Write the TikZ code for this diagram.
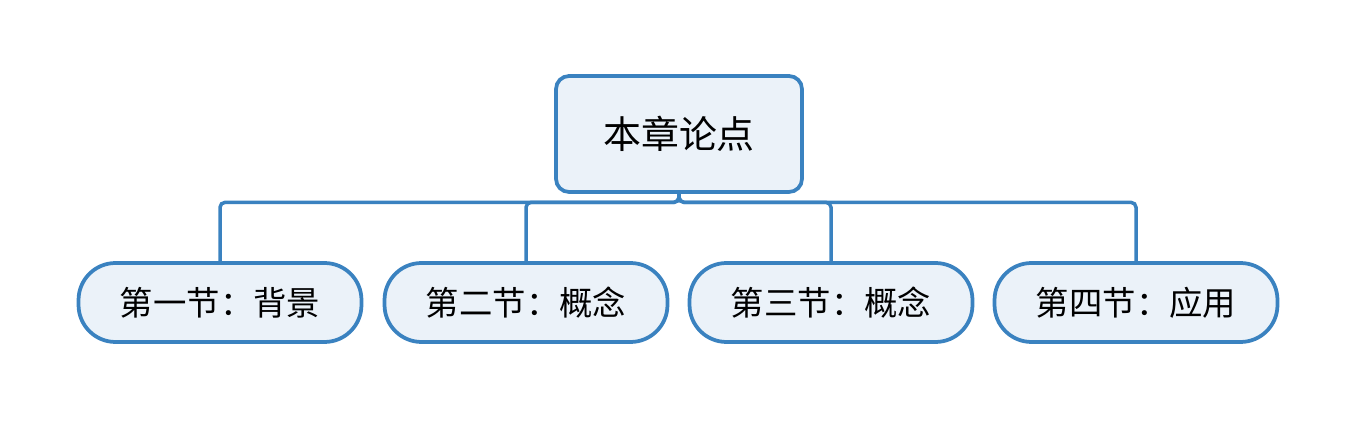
\documentclass[tikz,border=0pt]{standalone}
\usepackage{fontspec}
\setmainfont{Noto Sans CJK SC}
\usepackage{tikz}
\usetikzlibrary{positioning}

\definecolor{boxline}{HTML}{3A82C0}
\definecolor{boxfill}{HTML}{EBF2F9}

\begin{document}
\begin{tikzpicture}[x=0.02cm, y=-0.02cm]
    \tikzset{
        rootbox/.style={draw=boxline, fill=boxfill, line width=0.075cm, rounded corners=0.26cm,
            minimum width=4.92cm, minimum height=2.32cm, inner sep=0pt, font=\fontsize{21.6}{25}\selectfont},
        secbox/.style={draw=boxline, fill=boxfill, line width=0.075cm, rounded corners=0.74cm,
            minimum width=5.66cm, minimum height=1.58cm, inner sep=0pt, font=\fontsize{19}{22}\selectfont},
        link/.style={draw=boxline, line width=0.07cm, rounded corners=0.1cm}
    }
    \useasboundingbox (0,0) rectangle (1358,421);

    % root
    \node[rootbox] (root) at (679, 134) {本章论点};

    % sections
    \node[secbox] (s1) at (220, 302.5) {第一节：背景};
    \node[secbox] (s2) at (526, 302.5) {第二节：概念};
    \node[secbox] (s3) at (831, 302.5) {第三节：概念};
    \node[secbox] (s4) at (1136, 302.5) {第四节：应用};

    % connectors
    \foreach \s in {s1,s2,s3,s4}
        \draw[link] (root.south) -- ++(0,8.5) -| (\s.north);
\end{tikzpicture}
\end{document}
